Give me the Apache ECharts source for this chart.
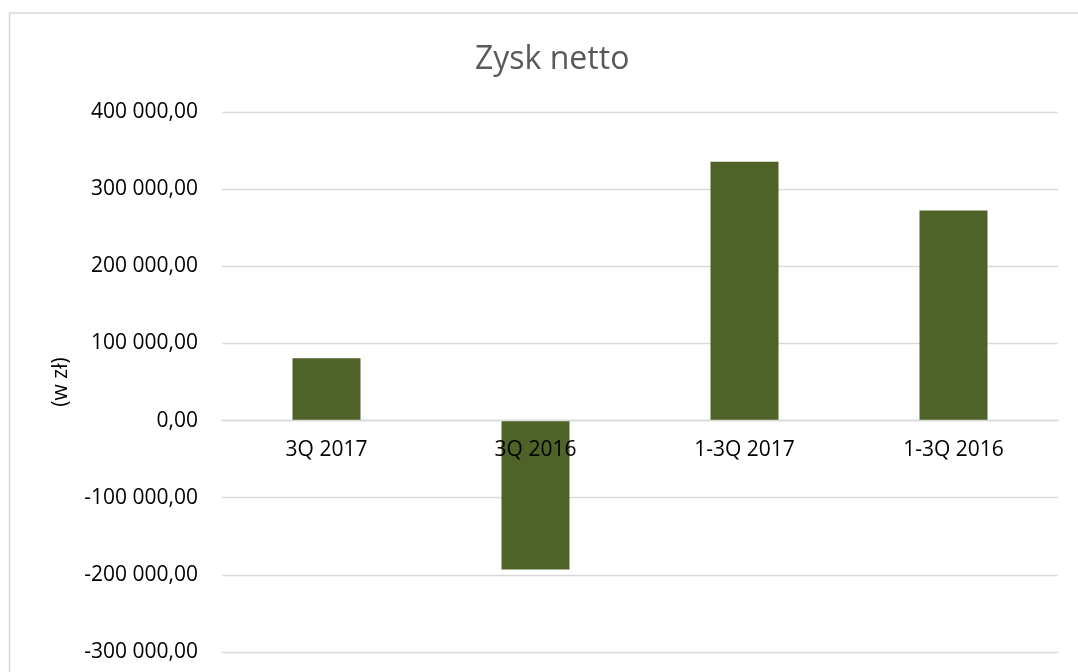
<!DOCTYPE html>
<html>
<head>
<meta charset="utf-8">
<script src="https://cdn.jsdelivr.net/npm/echarts@6/dist/echarts.min.js"></script>
<style>
html,body{margin:0;padding:0;background:#fff;}
#zysk{width:1078px;height:672px;}
</style>
</head>
<body>
<div id="zysk"></div>
<script>
var kategorie = ['3Q 2017', '3Q 2016', '1-3Q 2017', '1-3Q 2016'];
var zyskNetto = [80900, -193000, 335500, 272400];
var osY = {min: -300000, max: 400000, interval: 100000};

function formatPL(v){
	// 400 000,00 style
	var neg = v < 0;
	var s = Math.abs(v).toFixed(0).replace(/\B(?=(\d{3})+(?!\d))/g, ' ');
	return (neg ? '-' : '') + s + ',00';
}

var myChart = echarts.init(document.getElementById('zysk'));
var gridTop = 112, gridBottom = 20;
var plotH = 672 - gridTop - gridBottom;
// pixel distance from grid bottom up to the zero line
var zeroOffset = plotH * (0 - osY.min) / (osY.max - osY.min);

var option = {
	backgroundColor: '#fff',
	animation: false,
	textStyle: {fontFamily: '"Open Sans", sans-serif'},
	title: {
		text: 'Zysk netto',
		left: 470,
		top: 39,
		textStyle: {fontSize: 32, fontWeight: 'normal', color: '#595959', fontFamily: '"Open Sans", sans-serif'}
	},
	graphic: [{
		type: 'rect',
		shape: {x: 9.5, y: 13, width: 1200, height: 800},
		style: {fill: 'none', stroke: '#d9d9d9', lineWidth: 1.5},
		silent: true
	}],
	grid: {left: 222, right: 20, top: gridTop, bottom: gridBottom, outerBoundsMode: 'none'},
	xAxis: {
		type: 'category',
		data: kategorie,
		offset: -zeroOffset,
		z: 5,
		axisLine: {onZero: false, lineStyle: {color: '#d9d9d9', width: 1.3}},
		axisTick: {show: false},
		axisLabel: {fontSize: 21, color: '#000', margin: 19}
	},
	yAxis: {
		type: 'value',
		min: osY.min,
		max: osY.max,
		interval: osY.interval,
		name: '(w zł)',
		nameLocation: 'middle',
		nameGap: 150,
		nameTextStyle: {fontSize: 21, color: '#000'},
		axisLine: {show: false},
		axisTick: {show: false},
		splitLine: {lineStyle: {color: '#d9d9d9', width: 1.3}},
		axisLabel: {fontSize: 21, color: '#000', margin: 24, formatter: formatPL}
	},
	series: [{
		name: 'Zysk netto',
		type: 'bar',
		data: zyskNetto,
		barWidth: 68,
		itemStyle: {color: '#4f6228'}
	}]
};
myChart.setOption(option);
</script>
</body>
</html>
